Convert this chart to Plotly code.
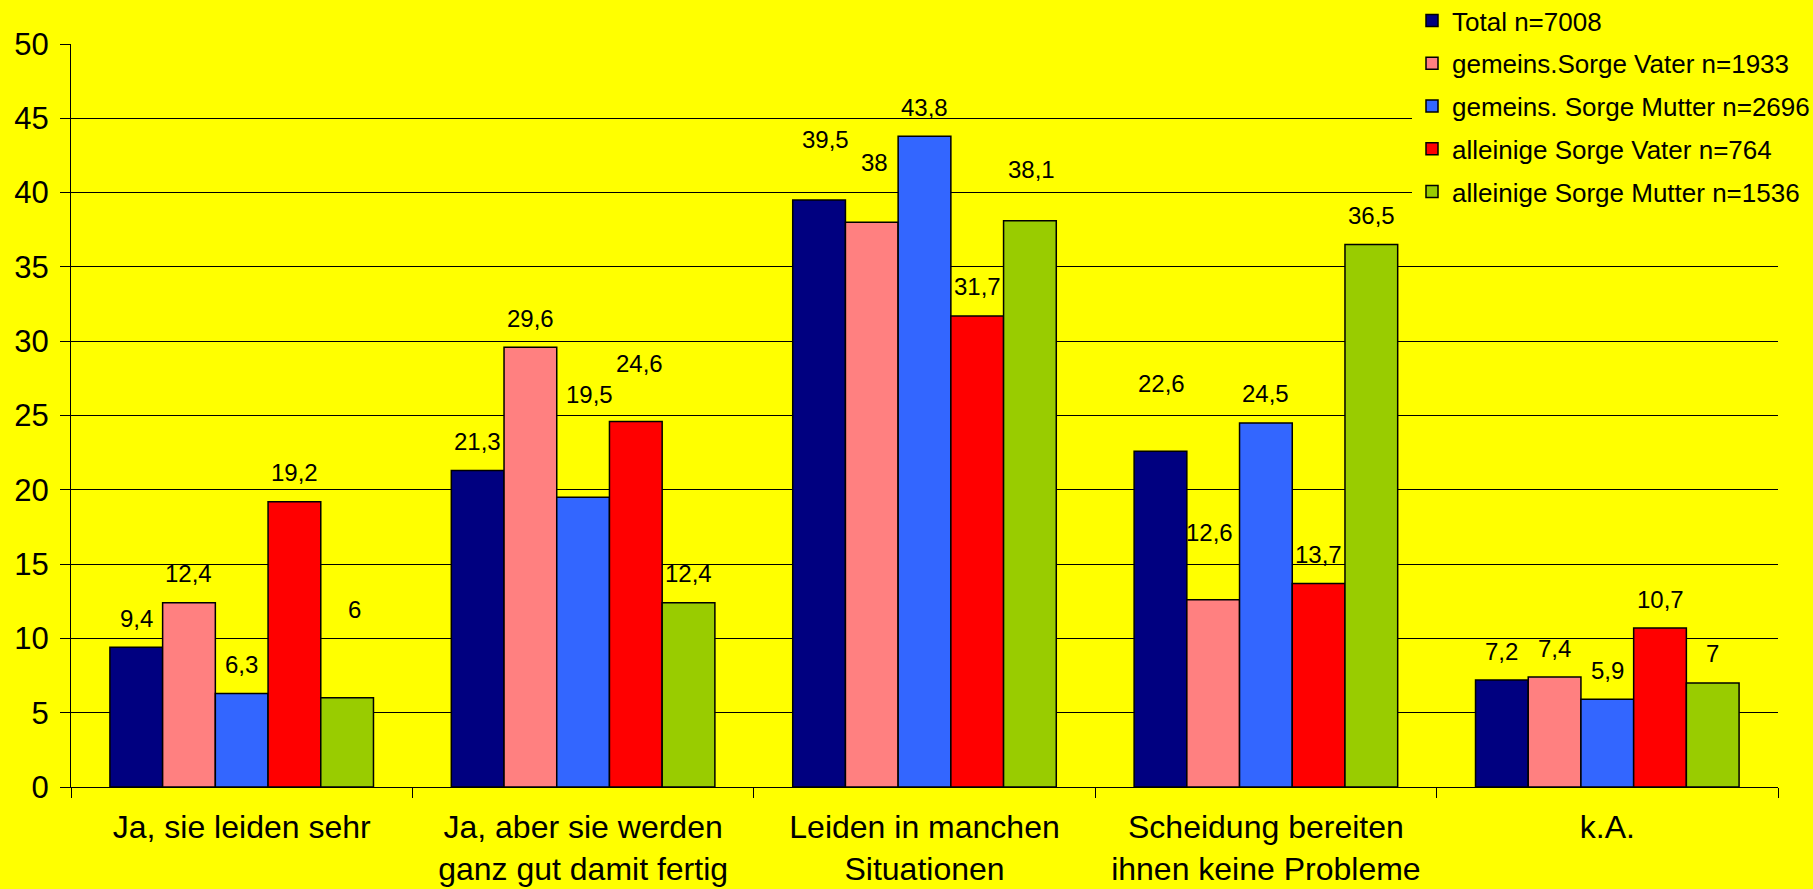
import plotly.graph_objects as go

# ==============================================================================
# Data
# ==============================================================================
categories = [
    "Ja, sie leiden sehr",
    "Ja, aber sie werden<br>ganz gut damit fertig",
    "Leiden in manchen<br>Situationen",
    "Scheidung bereiten<br>ihnen keine Probleme",
    "k.A.",
]
series_names = [
    "Total n=7008",
    "gemeins.Sorge Vater n=1933",
    "gemeins. Sorge Mutter n=2696",
    "alleinige Sorge Vater n=764",
    "alleinige Sorge Mutter n=1536",
]
total = [9.4, 21.3, 39.5, 22.6, 7.2]
gem_vater = [12.4, 29.6, 38.0, 12.6, 7.4]
gem_mutter = [6.3, 19.5, 43.8, 24.5, 5.9]
allein_vater = [19.2, 24.6, 31.7, 13.7, 10.7]
allein_mutter = [6.0, 12.4, 38.1, 36.5, 7.0]
y_ticks = [0, 5, 10, 15, 20, 25, 30, 35, 40, 45, 50]

# ==============================================================================
# Styles
# ==============================================================================
colors = ["#000080", "#FF8080", "#3366FF", "#FF0000", "#99CC00"]
BG = "#FFFF00"
FONT = "Liberation Sans, Arial, sans-serif"
BARGAP = 0.228
# label nudges (series, category) -> (dx px, dy px above bar top)
label_nudge = {
    (4, 0): (7, 88),
    (2, 1): (6, 103),
    (3, 1): (4, 58),
    (0, 2): (6, 61),
    (1, 2): (3, 60),
    (4, 2): (2, 51),
    (0, 3): (1, 68),
    (1, 3): (-4, 67),
}

all_series = [total, gem_vater, gem_mutter, allein_vater, allein_mutter]

fig = go.Figure()
for s, (name, vals) in enumerate(zip(series_names, all_series)):
    fig.add_trace(go.Bar(
        x=categories, y=vals, name=name,
        marker=dict(color=colors[s], line=dict(color="black", width=1.5)),
        legendgroup=str(s),
    ))

# ------------------------------------------
# Data labels
# ------------------------------------------
n = len(all_series)
bw = (1 - BARGAP) / n
for s, vals in enumerate(all_series):
    for j, v in enumerate(vals):
        dx, dy = label_nudge.get((s, j), (0, 29))
        fig.add_annotation(
            x=j - (1 - BARGAP) / 2 + (s + 0.5) * bw, y=v, xref="x", yref="y",
            text=f"{v:g}".replace(".", ","), showarrow=False,
            xanchor="center", yanchor="middle", xshift=dx, yshift=dy,
            font=dict(family=FONT, size=24, color="black"),
        )

# ==============================================================================
# Layout
# ==============================================================================
fig.update_layout(
    width=1813, height=889,
    barmode="group", bargap=BARGAP, bargroupgap=0,
    paper_bgcolor=BG, plot_bgcolor=BG,
    margin=dict(l=71, r=35, t=44, b=102, autoexpand=False),
    font=dict(family=FONT, color="black"),
    legend=dict(
        x=(1412 - 71) / 1707, y=1 + 47 / 743, xref="paper", yref="paper",
        xanchor="left", yanchor="top",
        bgcolor=BG, borderwidth=0, font=dict(size=26, family=FONT),
        tracegroupgap=6, itemwidth=30,
    ),
)
fig.update_yaxes(
    range=[0, 50], tickvals=y_ticks, showgrid=True, gridcolor="black", gridwidth=1,
    showline=True, linecolor="black", linewidth=1, ticks="outside", ticklen=10,
    tickcolor="black", tickfont=dict(size=31, family=FONT), zeroline=False,
    ticklabelstandoff=5,
)
fig.update_xaxes(
    showline=True, linecolor="black", linewidth=1, ticks="outside", ticklen=10,
    tickcolor="black", tickson="boundaries", tickfont=dict(size=32, family=FONT),
    ticklabelstandoff=12, tickangle=0,
)

fig.write_html("out.html", config={"displayModeBar": False},
               post_script="document.body.style.margin='0';")
